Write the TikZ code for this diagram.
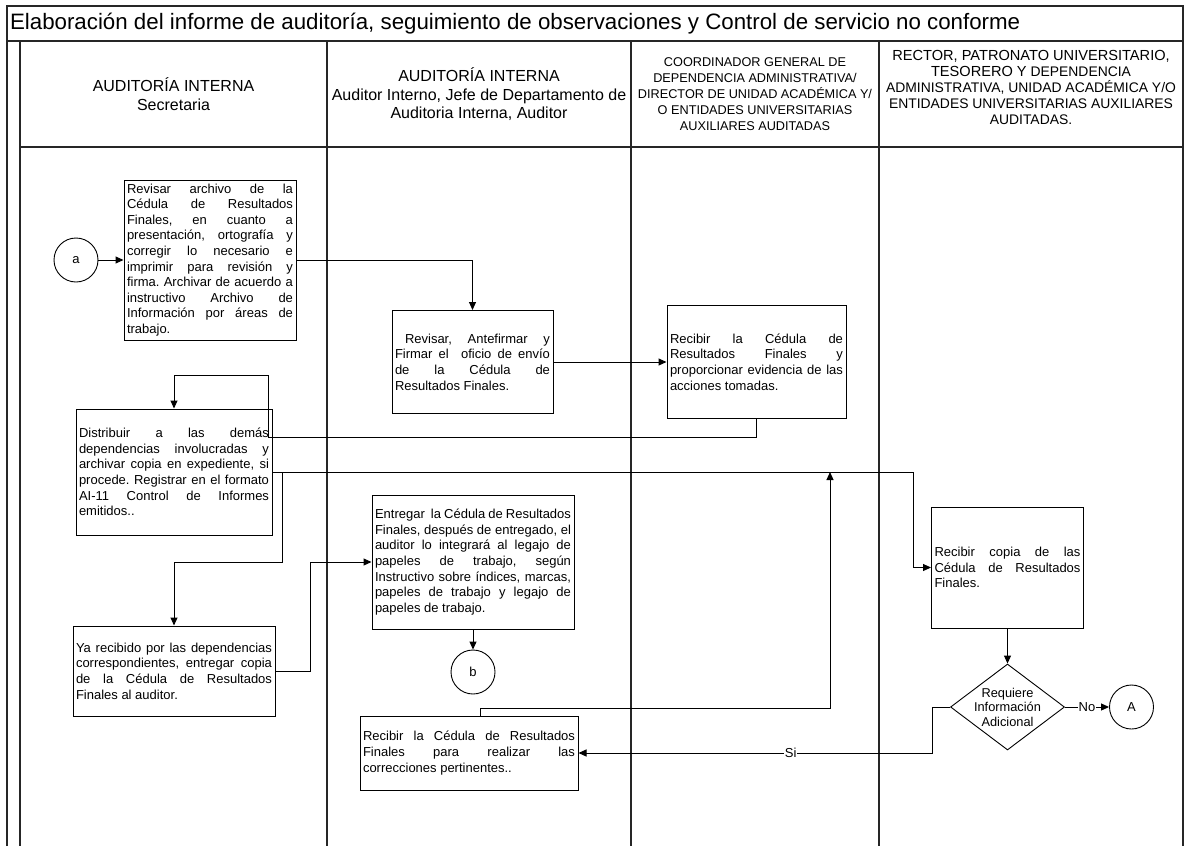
\documentclass[tikz,border=0pt]{standalone}
\usepackage{fontspec}
\setmainfont{Liberation Sans}
\usetikzlibrary{shapes, shapes.geometric, arrows.meta, positioning}
\hbadness=10000
\frenchspacing
\newcommand{\boxfont}{\fontsize{13}{15.6}\selectfont}
\newcommand{\lanefont}{\fontsize{16}{18.5}\selectfont}
\newcommand{\capsfont}{\fontsize{12.7}{16}\selectfont}

\begin{document}
\begin{tikzpicture}[x=1pt, y=1pt, >={Triangle[length=8pt,width=7pt]}]
\tikzstyle{laneline} = [line width=1.3pt, draw=black!85]
\tikzstyle{task} = [draw, line width=1pt, rectangle, inner sep=3pt, align=justify, font=\boxfont]
\tikzstyle{onpage} = [draw, circle, line width=0.9pt, minimum size=44pt, font=\boxfont]
\tikzstyle{decision} = [draw, diamond, line width=0.9pt, minimum width=114pt, minimum height=86pt, inner sep=0pt]
\tikzstyle{flow} = [->, line width=1pt]
\tikzstyle{answer} = [fill=white, inner sep=1pt, font=\boxfont]
\tikzstyle{lane} = [align=center, font=\lanefont]

\useasboundingbox (0,0) rectangle (1186,-846);

%draw lanes
\draw[laneline] (7,-846) -- (7,-6) -- (1183,-6) -- (1183,-846);
\draw[laneline] (7,-41) -- (1183,-41);
\draw[laneline] (20,-41) -- (20,-846);
\draw[laneline] (20,-147) -- (1183,-147);
\foreach \x in {327,631,879} \draw[laneline] (\x,-41) -- (\x,-846);

\node (title)[anchor=west, font=\fontsize{22.3}{26}\selectfont] at (6.5,-23.5) {Elaboración del informe de auditoría, seguimiento de observaciones y Control de servicio no conforme};

%%lane headers
\node (lane1)[lane] at (173.5,-94) {AUDITORÍA INTERNA\\Secretaria};
\node (lane2)[lane] at (479,-94.5) {AUDITORÍA INTERNA\\Auditor Interno, Jefe de Departamento de\\Auditoria Interna, Auditor};
\node (lane3)[lane, font=\capsfont] at (755,-94) {COORDINADOR GENERAL DE\\DEPENDENCIA ADMINISTRATIVA/\\DIRECTOR DE UNIDAD ACADÉMICA Y/\\O ENTIDADES UNIVERSITARIAS\\AUXILIARES AUDITADAS};
\node (lane4)[lane, font=\fontsize{13.9}{16}\selectfont] at (1031,-87) {{\fontsize{14.6}{16}\selectfont RECTOR, PATRONATO UNIVERSITARIO,}\\{\fontsize{14.6}{16}\selectfont TESORERO Y} DEPENDENCIA\\ADMINISTRATIVA, UNIDAD ACADÉMICA Y/O\\ENTIDADES UNIVERSITARIAS AUXILIARES\\AUDITADAS.};

%%secretaria
\node (a)[onpage] at (76,-260) {a};
\node (revisar)[task, text width=166pt, minimum height=160pt, right of=a, node distance=134pt] {Revisar archivo de la\linebreak Cédula de Resultados\linebreak Finales, en cuanto a\linebreak presentación, ortografía y\linebreak corregir lo necesario e\linebreak imprimir para revisión y\linebreak firma. Archivar de acuerdo a\linebreak instructivo Archivo de\linebreak Información por áreas de\linebreak trabajo.};
\node (distribuir)[task, text width=190pt, minimum height=126pt] at (174,-472) {Distribuir a las demás\linebreak dependencias involucradas y\linebreak archivar copia en expediente, si\linebreak procede. Registrar en el formato\linebreak AI-11 Control de Informes\linebreak emitidos..};
\node (yarecibido)[task, text width=196pt, minimum height=90pt, below of=distribuir, node distance=199pt] {Ya recibido por las dependencias\linebreak correspondientes, entregar copia\linebreak de la Cédula de Resultados\linebreak Finales al auditor.};

%%auditor
\node (antefirmar)[task, text width=155pt, minimum height=103pt] at (472.5,-362) {\hspace*{10pt}Revisar, Antefirmar y\linebreak Firmar el \ oficio de envío\linebreak de la Cédula de\linebreak Resultados Finales.};
\node (entregar)[task, text width=196pt, minimum height=134pt] at (473,-562) {Entregar \ la Cédula de Resultados\linebreak Finales, después de entregado, el\linebreak auditor lo integrará al legajo de\linebreak papeles de trabajo, según\linebreak Instructivo sobre índices, marcas,\linebreak papeles de trabajo y legajo de\linebreak papeles de trabajo.};
\node (b)[onpage, below of=entregar, node distance=110pt] {b};
\node (correcciones)[task, text width=212pt, minimum height=74pt] at (469,-753) {Recibir la Cédula de Resultados\linebreak Finales para realizar las\linebreak correcciones pertinentes..};

%%auditadas
\node (recibir)[task, text width=173pt, minimum height=113pt, right of=antefirmar, node distance=284pt] {Recibir la Cédula de\linebreak Resultados Finales y\linebreak proporcionar evidencia de las\linebreak acciones tomadas.};

%%rector
\node (copia)[task, text width=146pt, minimum height=121pt] at (1007.5,-567.5) {Recibir copia de las\linebreak Cédula de Resultados\linebreak Finales.};
\node (q)[decision, below of=copia, node distance=139.5pt, label={[align=center, font=\fontsize{12.8}{14.5}\selectfont]center:Requiere\\Información\\Adicional}] {};
\node (A)[onpage, right of=q, node distance=124pt] {A};

%
\coordinate (merge) at (830,-472);
\draw[flow] (a) -- (revisar);
\draw[flow] (revisar.east) -| (antefirmar.north);
\draw[flow] (antefirmar) -- (recibir);
\draw[flow] (recibir.south) -- ++(0,-18) -| ([xshift=-4pt, yshift=33pt]distribuir.north east) -| (distribuir.north);
\draw[flow] (distribuir.east) -- ++(10,0) |- ([yshift=63pt]yarecibido.north) -- (yarecibido.north);
\draw[flow] (distribuir.east) -| ([xshift=-18pt]copia.west) -- (copia.west);
\draw[flow] (yarecibido.east) -- ++(35,0) |- (entregar.west);
\draw[flow] (entregar) -- (b);
\draw[flow] ([xshift=11pt]correcciones.north) -- ++(0,7) -| (merge);
\draw[flow] (copia) -- (q);
\draw[flow] (q) -- node[answer]{No} (A);
\draw[flow] (q.west) -- ++(-18,0) |- node[answer, pos=0.7]{Si} (correcciones.east);

\end{tikzpicture}
\end{document}
